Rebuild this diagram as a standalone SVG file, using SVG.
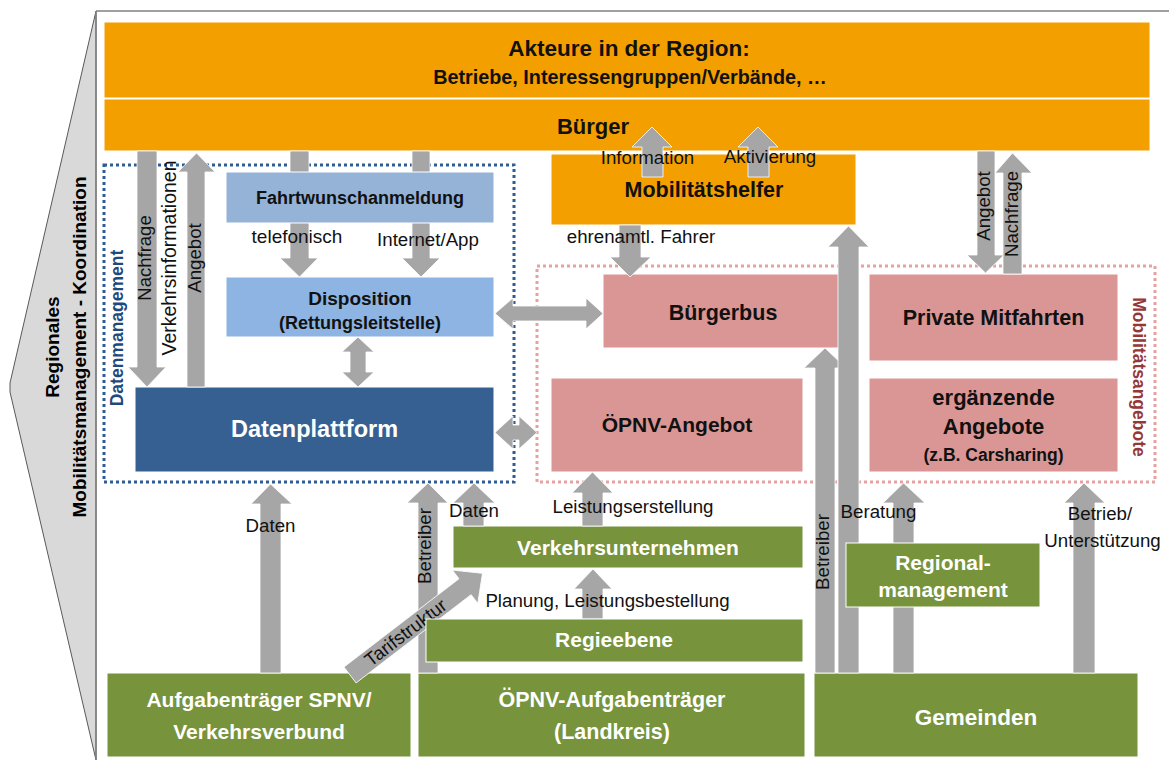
<svg xmlns="http://www.w3.org/2000/svg" width="1169" height="762" viewBox="0 0 1169 762">
<style>
text{font-family:"Liberation Sans",Arial,sans-serif}
.b{font-weight:bold}
.lbl{fill:#111}
.arr{fill:#a6a6a6;stroke:#fff;stroke-width:0.8}
.or{fill:#f49f00;stroke:#fff;stroke-width:1}
.gr{fill:#77933c;stroke:#fff;stroke-width:1}
.pk{fill:#da9694;stroke:#fff;stroke-width:1}
.wt{fill:#fff;font-weight:bold}
.bk{fill:#111;font-weight:bold}
</style>
<rect width="1169" height="762" fill="#fff"/>

<g id="frame">
<polygon points="96,11 10,383 10,392 96,760" fill="#d9d9d9" stroke="#595959" stroke-width="1"/>
<line x1="96" y1="11" x2="1169" y2="11" stroke="#808080" stroke-width="1.5"/>
<line x1="96" y1="11" x2="96" y2="760" stroke="#808080" stroke-width="1.5"/>
<text class="b" font-size="19" text-anchor="middle" transform="translate(59,347) rotate(-90)">Regionales</text>
<text class="b" font-size="19" text-anchor="middle" transform="translate(86,347) rotate(-90)">Mobilitätsmanagement - Koordination</text>
</g>

<g id="groups">
<rect x="104" y="165" width="410" height="317" fill="none" stroke="#2e5c94" stroke-width="3" stroke-dasharray="3 3"/>
<text class="b" font-size="17.5" fill="#1f497d" text-anchor="middle" transform="translate(123,328) rotate(-90)">Datenmanagement</text>
<rect x="537" y="266" width="618" height="216" fill="none" stroke="#e6a2a2" stroke-width="3" stroke-dasharray="3 3"/>
<text class="b" font-size="17.5" fill="#953735" text-anchor="middle" transform="translate(1133,377) rotate(90)">Mobilitätsangebote</text>
</g>

<g id="akteure"><rect class="or" x="104" y="22" width="1046" height="76"/>
<text class="bk" font-size="22.5" text-anchor="middle" x="629" y="56">Akteure in der Region:</text>
<text class="bk" font-size="19.8" text-anchor="middle" x="630" y="84">Betriebe, Interessengruppen/Verbände, …</text></g>
<g id="buerger"><rect class="or" x="104" y="99" width="1046" height="52"/>
<text class="bk" font-size="22" text-anchor="middle" x="593" y="134">Bürger</text></g>
<g id="mobilitaetshelfer"><rect class="or" x="551" y="154" width="305" height="71"/>
<text class="bk" font-size="21.5" text-anchor="middle" x="704" y="197">Mobilitätshelfer</text></g>
<g id="disposition"><rect x="226" y="277" width="268" height="60" fill="#8db4e2" stroke="#fff"/>
<text class="bk" font-size="19" text-anchor="middle" x="360" y="305">Disposition</text>
<text class="bk" font-size="18" text-anchor="middle" x="360" y="329">(Rettungsleitstelle)</text></g>
<g id="datenplattform"><rect x="135" y="387" width="359" height="85" fill="#366092" stroke="#fff"/>
<text class="wt" font-size="23.5" text-anchor="middle" x="314.5" y="437">Datenplattform</text></g>
<g id="buergerbus"><rect class="pk" x="603" y="274" width="240" height="74"/>
<text class="bk" font-size="21.5" text-anchor="middle" x="723" y="320">Bürgerbus</text></g>
<g id="oepnv-angebot"><rect class="pk" x="551" y="378" width="252" height="94"/>
<text class="bk" font-size="21" text-anchor="middle" x="677" y="432">ÖPNV-Angebot</text></g>
<g id="private-mitfahrten"><rect class="pk" x="869" y="274" width="249" height="87"/>
<text class="bk" font-size="21.5" text-anchor="middle" x="993.5" y="325">Private Mitfahrten</text></g>
<g id="ergaenzende-angebote"><rect class="pk" x="869" y="378" width="249" height="94"/>
<text class="bk" font-size="22" text-anchor="middle" x="993.5" y="405">ergänzende</text>
<text class="bk" font-size="22" text-anchor="middle" x="993.5" y="434">Angebote</text>
<text class="bk" font-size="17.5" text-anchor="middle" x="993.5" y="461">(z.B. Carsharing)</text></g>
<g id="verkehrsunternehmen"><rect class="gr" x="453" y="526" width="350" height="42"/>
<text class="wt" font-size="21" text-anchor="middle" x="628" y="555">Verkehrsunternehmen</text></g>
<g id="spnv"><rect class="gr" x="107" y="673" width="304" height="84"/>
<text class="wt" font-size="21" text-anchor="middle" x="259" y="707">Aufgabenträger SPNV/</text>
<text class="wt" font-size="21" text-anchor="middle" x="259" y="739">Verkehrsverbund</text></g>
<g id="oepnv-aufgabentraeger"><rect class="gr" x="418" y="673" width="387" height="84"/>
<text class="wt" font-size="21.5" text-anchor="middle" x="612" y="707">ÖPNV-Aufgabenträger</text>
<text class="wt" font-size="21.5" text-anchor="middle" x="612" y="739">(Landkreis)</text></g>
<g id="gemeinden"><rect class="gr" x="814" y="673" width="324" height="84"/>
<text class="wt" font-size="22.5" text-anchor="middle" x="976" y="725">Gemeinden</text></g>

<g id="connectors">
<polygon class="arr" points="137,151 157,151 157,367 166,367 147,387 128,367 137,367"/>
<polygon class="arr" points="187,387 187,172 178,172 196.5,153 215,172 205,172 205,387"/>
<polygon class="arr" points="290,151 309,151 309,258 318,258 299.5,277 280,258 290,258"/>
<polygon class="arr" points="412,151 430,151 430,258 440,258 421,277 402,258 412,258"/>
<polygon class="arr" points="358,337 374,352 366,352 366,372 374,372 358,387 342,372 350,372 350,352 342,352"/>
<polygon class="arr" points="495,313.5 513,298 513,306 586,306 586,298 603,313.5 586,329 586,321 513,321 513,329"/>
<polygon class="arr" points="495,432.5 513,416 513,425 519,425 519,416 537,432.5 519,449 519,440 513,440 513,449"/>
<polygon class="arr" points="642,177 642,147 632,147 652,127 672,147 663,147 663,177"/>
<polygon class="arr" points="748,177 748,147 738,147 758,127 778,147 769,147 769,177"/>
<polygon class="arr" points="619,225 641,225 641,257 651,257 630,277 610,257 619,257"/>
<polygon class="arr" points="977,151 995,151 995,255 1004,255 985.5,273 967,255 977,255"/>
<polygon class="arr" points="1003,274 1003,173 995,173 1012.5,153 1032,173 1022,173 1022,274"/>
<polygon class="arr" points="815,673 815,368 804,368 825,348 846,368 835,368 835,673"/>
<polygon class="arr" points="838,673 838,247 828,247 848.5,226 869,247 859,247 859,673"/>
<polygon class="arr" points="893,673 893,503 883,503 903.5,483 925,503 914,503 914,673"/>
<polygon class="arr" points="1073,673 1073,503 1064,503 1084,483 1105,503 1095,503 1095,673"/>
<polygon class="arr" points="260,673 260,504 251,504 270.5,484 292,504 281,504 281,673"/>
<polygon class="arr" points="418,673 418,503 407,503 428,483 448,503 438,503 438,673"/>
<polygon class="arr" points="463,526 463,503 453,503 474,483 495,503 484,503 484,526"/>
<polygon class="arr" points="582,526 582,493 572,493 592.5,472 613,493 603,493 603,526"/>
<polygon class="arr" points="582,619 582,589 574,589 593,569 612,589 603,589 603,619"/>
<g transform="translate(350,675) rotate(-37.5)">
<polygon class="arr" points="0,-10 145,-10 145,-21 167,0 145,21 145,10 0,10"/>
<text class="lbl" font-size="18.7" text-anchor="middle" x="70" y="6.5">Tarifstruktur</text>
</g>
<text class="lbl" font-size="18.5" text-anchor="middle" transform="translate(151,258) rotate(-90)">Nachfrage</text>
<text class="lbl" font-size="19.5" text-anchor="middle" transform="translate(176,258) rotate(-90)">Verkehrsinformationen</text>
<text class="lbl" font-size="18.7" text-anchor="middle" transform="translate(201,258) rotate(-90)">Angebot</text>
<text class="lbl" font-size="19" text-anchor="middle" x="297" y="243">telefonisch</text>
<text class="lbl" font-size="18.7" text-anchor="middle" x="428" y="246">Internet/App</text>
<text class="lbl" font-size="18.7" text-anchor="middle" x="647.5" y="164">Information</text>
<text class="lbl" font-size="18.7" text-anchor="middle" x="770" y="163">Aktivierung</text>
<text class="lbl" font-size="18.7" text-anchor="middle" x="641" y="243">ehrenamtl. Fahrer</text>
<text class="lbl" font-size="18.7" text-anchor="middle" transform="translate(990,206) rotate(-90)">Angebot</text>
<text class="lbl" font-size="18.7" text-anchor="middle" transform="translate(1018,214) rotate(-90)">Nachfrage</text>
<text class="lbl" font-size="18.7" text-anchor="middle" transform="translate(829,552) rotate(-90)">Betreiber</text>
<text class="lbl" font-size="18.7" text-anchor="middle" x="878.5" y="518">Beratung</text>
<text class="lbl" font-size="18.7" text-anchor="middle" x="1100" y="520">Betrieb/</text>
<text class="lbl" font-size="18.7" text-anchor="middle" x="1102.5" y="547">Unterstützung</text>
<text class="lbl" font-size="18.7" text-anchor="middle" x="270.5" y="532">Daten</text>
<text class="lbl" font-size="18.7" text-anchor="middle" transform="translate(431,546) rotate(-90)">Betreiber</text>
<text class="lbl" font-size="18.7" text-anchor="middle" x="474" y="517">Daten</text>
<text class="lbl" font-size="18.7" text-anchor="middle" x="633" y="513">Leistungserstellung</text>
<text class="lbl" font-size="18.7" text-anchor="middle" x="607.5" y="607">Planung, Leistungsbestellung</text>
</g>

<g id="fahrtwunschanmeldung"><rect x="226" y="172" width="268" height="51" fill="#95b3d7" stroke="#fff"/>
<text class="bk" font-size="18" text-anchor="middle" x="360" y="204">Fahrtwunschanmeldung</text></g>
<g id="regieebene"><rect class="gr" x="426" y="619" width="377" height="43"/>
<text class="wt" font-size="21" text-anchor="middle" x="614" y="647">Regieebene</text></g>
<g id="regionalmanagement"><rect class="gr" x="846" y="543" width="194" height="64"/>
<text class="wt" font-size="21" text-anchor="middle" x="943" y="570">Regional-</text>
<text class="wt" font-size="21" text-anchor="middle" x="943" y="597">management</text></g>
</svg>
